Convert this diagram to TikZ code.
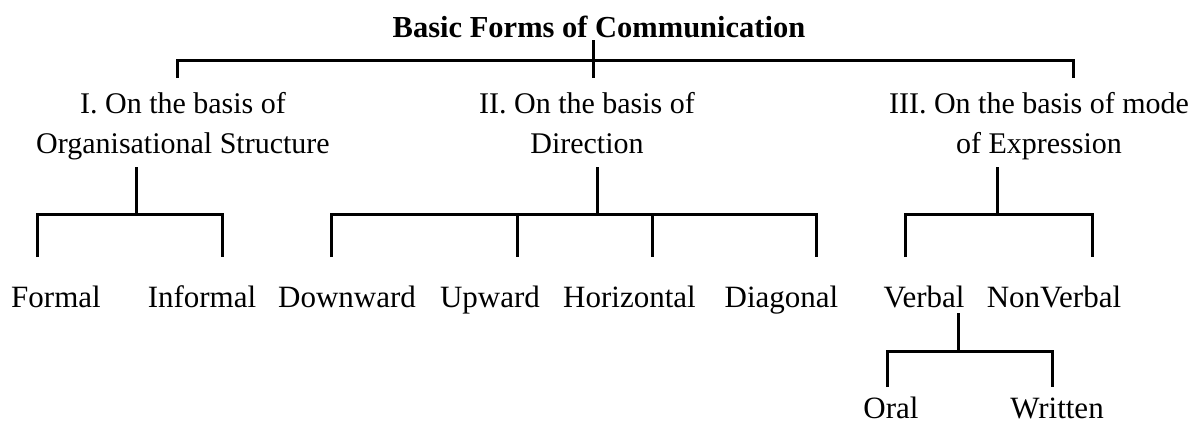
\documentclass[tikz,border=0pt]{standalone}
\usepackage{fontspec}
\setmainfont{Liberation Serif}
\begin{document}
\begin{tikzpicture}[x=1pt,y=-1pt,
  conn/.style={line width=3pt, line join=miter},
  titlebox/.style={anchor=base, inner sep=0pt, font=\bfseries\fontsize{30.5}{36}\selectfont},
  headbox/.style={anchor=base, inner sep=0pt, align=center, font=\fontsize{30}{40}\selectfont},
  leafbox/.style={anchor=base, inner sep=0pt, font=\fontsize{31}{36}\selectfont}]
\useasboundingbox (0,0) rectangle (1202,423);

% labels (two-line headings are placed by the baseline of their last line)
\node[titlebox] (title) at (599,37) {Basic Forms of Communication};
\node[headbox] (org)  at (183,153) {I. On the basis of\\Organisational Structure};
\node[headbox] (dir)  at (587,153) {II. On the basis of\\Direction};
\node[headbox] (expr) at (1039,153) {III. On the basis of mode\\of Expression};

\node[leafbox] (formal)     at (56,307)    {Formal};
\node[leafbox] (informal)   at (202,307)   {Informal};
\node[leafbox] (downward)   at (347,307)   {Downward};
\node[leafbox] (upward)     at (490,307)   {Upward};
\node[leafbox] (horizontal) at (629.5,307) {Horizontal};
\node[leafbox] (diagonal)   at (781.5,307) {Diagonal};
\node[leafbox] (verbal)     at (924,307)   {Verbal};
\node[leafbox] (nonverbal)  at (1054,307)  {NonVerbal};
\node[leafbox] (oral)       at (891,418)   {Oral};
\node[leafbox] (written)    at (1057,418)  {Written};

% junction points of the tree
\coordinate (rootTop) at (593,40);
\coordinate (rootBar) at (593,60);
\coordinate (rootEnd) at (593,78);
\coordinate (toOrg)   at (177,78);
\coordinate (toExpr)  at (1073,78);

\coordinate (orgTop) at (136,167);  \coordinate (orgBar) at (136,214);
\coordinate (dirTop) at (597,167);  \coordinate (dirBar) at (597,214);
\coordinate (exprTop) at (997,167); \coordinate (exprBar) at (997,214);
\coordinate (verTop) at (958,313);  \coordinate (verBar) at (958,351);

\coordinate (toFormal)   at (37,257);
\coordinate (toInformal) at (222,257);
\coordinate (toDown)     at (331,257);
\coordinate (toUp)       at (517,257);
\coordinate (toHoriz)    at (652,257);
\coordinate (toDiag)     at (816,257);
\coordinate (toVerbal)   at (905,257);
\coordinate (toNonVerb)  at (1092,257);
\coordinate (toOral)     at (887,387);
\coordinate (toWritten)  at (1052,387);

% root level
\draw[conn] (rootTop) -- (rootEnd);
\draw[conn] (toOrg) -- (toOrg |- rootBar) -- (toExpr |- rootBar) -- (toExpr);

% organisational structure
\draw[conn] (orgTop) -- (orgBar);
\draw[conn] (toFormal) -- (toFormal |- orgBar) -- (toInformal |- orgBar) -- (toInformal);

% direction
\draw[conn] (dirTop) -- (dirBar);
\draw[conn] (toDown) -- (toDown |- dirBar) -- (toDiag |- dirBar) -- (toDiag);
\draw[conn] (toUp |- dirBar) -- (toUp);
\draw[conn] (toHoriz |- dirBar) -- (toHoriz);

% mode of expression
\draw[conn] (exprTop) -- (exprBar);
\draw[conn] (toVerbal) -- (toVerbal |- exprBar) -- (toNonVerb |- exprBar) -- (toNonVerb);

% verbal
\draw[conn] (verTop) -- (verBar);
\draw[conn] (toOral) -- (toOral |- verBar) -- (toWritten |- verBar) -- (toWritten);
\end{tikzpicture}
\end{document}
